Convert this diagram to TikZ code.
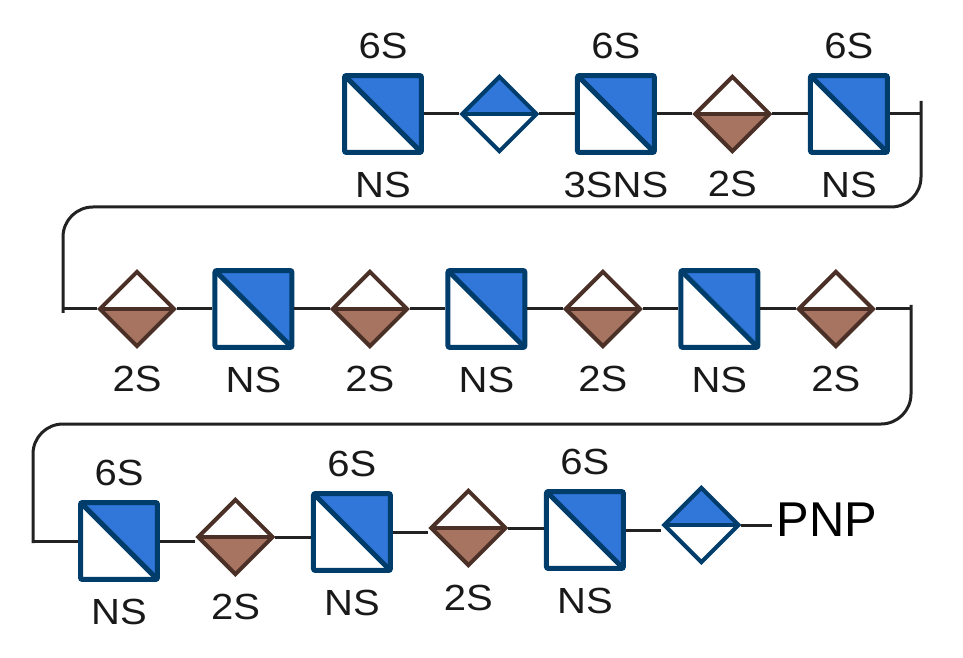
\documentclass[tikz,border=0pt]{standalone}
\usepackage{fontspec}
\setmainfont{Liberation Sans}
\newfontfamily\tagfont[FakeStretch=1.1]{Liberation Sans}
\usetikzlibrary{positioning,shapes.geometric}
\definecolor{glcnblue}{RGB}{49,118,217}
\definecolor{glcnedge}{RGB}{0,61,107}
\definecolor{idoafill}{RGB}{166,116,96}
\definecolor{idoaedge}{RGB}{74,48,38}
\definecolor{linkgray}{RGB}{34,34,34}
\tikzset{
  glcn/.style={rectangle, draw=glcnedge, fill=white, line width=0.1cm,
    minimum size=1.54cm, inner sep=0pt, rounded corners=0.04cm,
    path picture={
      \fill[glcnblue] (path picture bounding box.north west) -- (path picture bounding box.north east)
        -- (path picture bounding box.south east) -- cycle;
      \draw[glcnedge, line width=0.1cm] (path picture bounding box.north west) -- (path picture bounding box.south east);
    }},
  glca/.style={diamond, aspect=1, draw=glcnedge, fill=white, line width=0.08cm,
    minimum size=1.52cm, inner sep=0pt,
    path picture={
      \fill[glcnblue] (path picture bounding box.north west) rectangle (path picture bounding box.east);
      \draw[glcnedge, line width=0.08cm] (path picture bounding box.west) -- (path picture bounding box.east);
    }},
  idoa/.style={diamond, aspect=1, draw=idoaedge, fill=white, line width=0.08cm,
    minimum size=1.52cm, inner sep=0pt,
    path picture={
      \fill[idoafill] (path picture bounding box.west) rectangle (path picture bounding box.south east);
      \draw[idoaedge, line width=0.08cm] (path picture bounding box.west) -- (path picture bounding box.east);
    }},
  link/.style={draw=linkgray, line width=0.06cm},
  tag/.style={font={\tagfont\fontsize{20.7}{24}\selectfont}, inner sep=0pt, text=black!90},
  tag above/.style={label={[tag, label distance=0.28cm]above:#1}},
  tag below/.style={label={[tag, label distance=0.34cm]below:#1}},
}
\begin{document}
\begin{tikzpicture}[x=0.02cm, y=-0.02cm, node distance=2.33cm, on grid]
\useasboundingbox (0,0) rectangle (963,658);

% first row
\node[glcn, tag above=6S, tag below=NS] (n1) at (383,114) {};
\node[glca, right=of n1] (a1) {};
\node[glcn, right=of a1, tag above=6S, tag below=3SNS] (n2) {};
\node[idoa, right=of n2, tag below=2S] (i1) {};
\node[glcn, right=of i1, tag above=6S, tag below=NS] (n3) {};

% second row
\node[idoa, tag below=2S] (i2) at (137,309) {};
\node[glcn, right=of i2, tag below=NS] (n4) {};
\node[idoa, right=of n4, tag below=2S] (i3) {};
\node[glcn, right=of i3, tag below=NS] (n5) {};
\node[idoa, right=of n5, tag below=2S] (i4) {};
\node[glcn, right=of i4, tag below=NS] (n6) {};
\node[idoa, right=of n6, tag below=2S] (i5) {};

% third row
\node[glcn, tag above=6S, tag below=NS] (n7) at (119,541) {};
\node[idoa, right=of n7, yshift=0.08cm, tag below=2S] (i6) {};
\node[glcn, right=of i6, yshift=0.1cm, tag above=6S, tag below=NS] (n8) {};
\node[idoa, right=of n8, yshift=0.08cm, tag below=2S] (i7) {};
\node[glcn, right=of i7, yshift=-0.04cm, tag above=6S, tag below=NS] (n9) {};
\node[glca, right=of n9, yshift=0.1cm] (a2) {};
\node[font={\fontsize{27.8}{32}\selectfont}, anchor=west, inner sep=0.08cm] (pnp)
  at ([xshift=0.62cm, yshift=0.1cm]a2.east) {PNP};

% links
\foreach \a/\b in {n1/a1,a1/n2,n2/i1,i1/n3,i2/n4,n4/i3,i3/n5,n5/i4,i4/n6,n6/i5,
                   n7/i6,i6/n8,n8/i7,i7/n9,n9/a2,a2/pnp}
  \draw[link] (\a.east) -- (\a.east -| \b.west);

% row turns
\coordinate (k1) at (921,101);
\coordinate (k2) at (63,313);
\coordinate (k3) at (911,305);
\coordinate (k4) at (33,543);
\draw[link] (n3.east) -- (n3.east -| k1);
\draw[link, rounded corners=0.6cm] (k1) |- (490,207) -| (k2);
\draw[link] (k2 |- i2.west) -- (i2.west);
\draw[link] (i5.east) -- (i5.east -| k3);
\draw[link, rounded corners=0.6cm] (k3) |- (480,424) -| (k4);
\draw[link] (k4 |- n7.west) -- (n7.west);
\end{tikzpicture}
\end{document}
